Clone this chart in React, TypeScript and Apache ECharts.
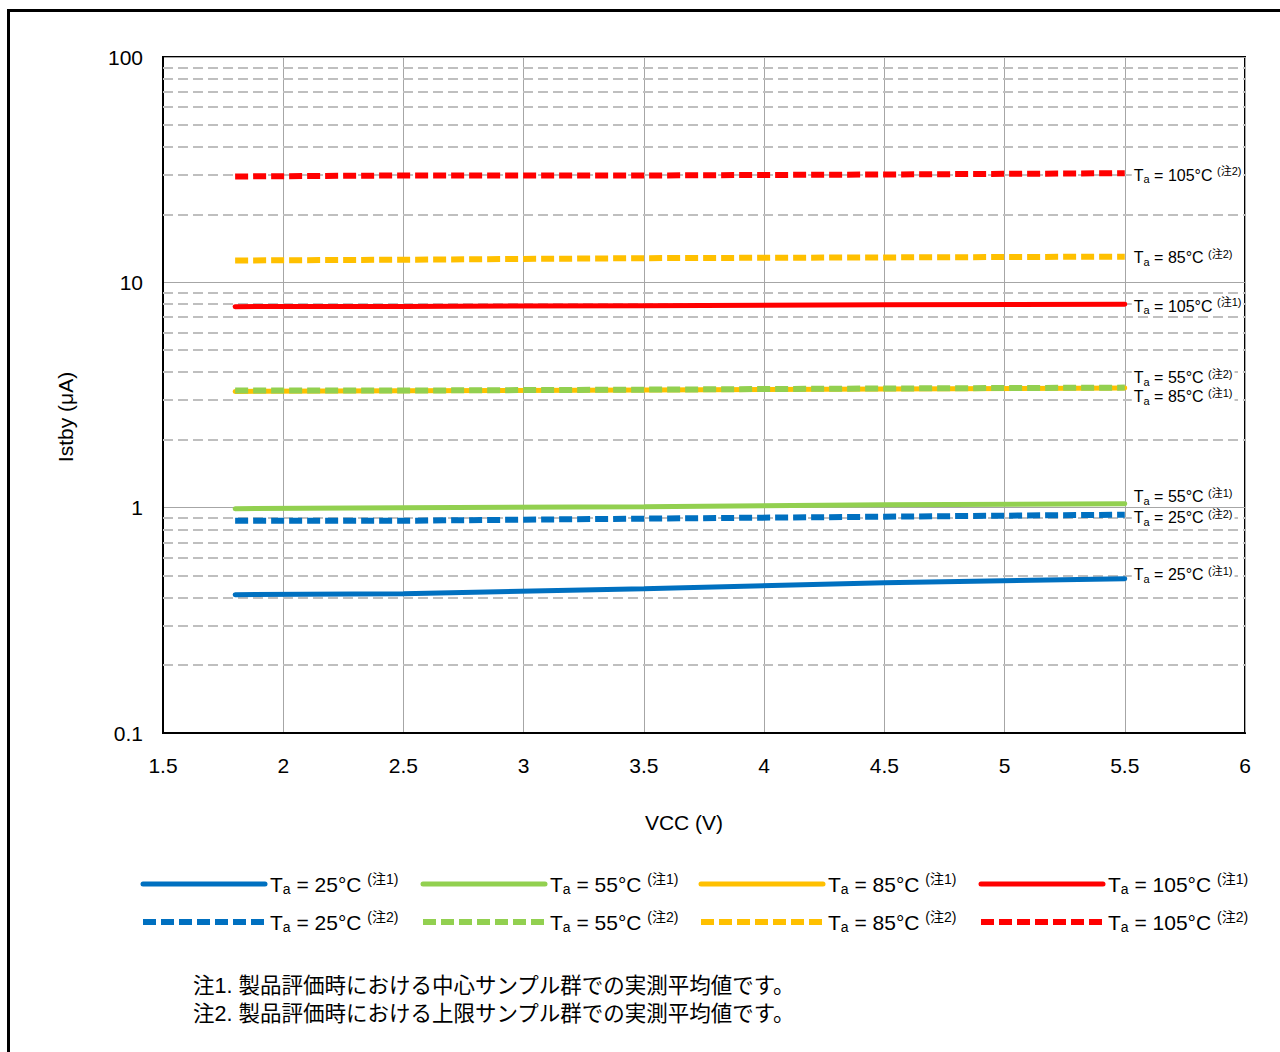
import React, { useEffect, useRef } from "react";
import * as echarts from "echarts";

const vcc = [1.8, 2.5, 3.5, 4.5, 5.5];

const ta25n1 = [0.411, 0.415, 0.437, 0.464, 0.484];
const ta55n1 = [0.99, 1.0, 1.01, 1.03, 1.04];
const ta85n1 = [3.28, 3.3, 3.33, 3.36, 3.4];
const ta105n1 = [7.8, 7.82, 7.88, 7.95, 8.0];
const ta25n2 = [0.875, 0.875, 0.894, 0.912, 0.931];
const ta55n2 = [3.31, 3.31, 3.34, 3.38, 3.41];
const ta85n2 = [12.5, 12.6, 12.8, 12.9, 13.0];
const ta105n2 = [29.5, 29.8, 29.8, 30.1, 30.5];

const minorGrid = [0.2, 0.3, 0.4, 0.5, 0.6, 0.7, 0.8, 0.9, 2, 3, 4, 5, 6, 7, 8, 9, 20, 30, 40, 50, 60, 70, 80, 90];

const notes = [
  "注1. 製品評価時における中心サンプル群での実測平均値です。",
  "注2. 製品評価時における上限サンプル群での実測平均値です。",
];

const FONT = '"Liberation Sans", Arial, "Noto Sans CJK JP", sans-serif';

type S = { name: string; temp: string; note: string; color: string; dashed: boolean; data: number[]; offset: number };

const seriesDefs: S[] = [
  { name: "25n1", temp: "25", note: "1", color: "#0070C0", dashed: false, data: ta25n1, offset: -4 },
  { name: "55n1", temp: "55", note: "1", color: "#92D050", dashed: false, data: ta55n1, offset: -7 },
  { name: "85n1", temp: "85", note: "1", color: "#FFC000", dashed: false, data: ta85n1, offset: 9 },
  { name: "105n1", temp: "105", note: "1", color: "#FF0000", dashed: false, data: ta105n1, offset: 2 },
  { name: "25n2", temp: "25", note: "2", color: "#0070C0", dashed: true, data: ta25n2, offset: 3 },
  { name: "55n2", temp: "55", note: "2", color: "#92D050", dashed: true, data: ta55n2, offset: -10 },
  { name: "85n2", temp: "85", note: "2", color: "#FFC000", dashed: true, data: ta85n2, offset: 1 },
  { name: "105n2", temp: "105", note: "2", color: "#FF0000", dashed: true, data: ta105n2, offset: 2 },
];

const labelText = (d: S) => `{t|T}{s|a}{t| = ${d.temp}°C }{n|(注${d.note})}`;

const rich = (big: number, small: number, lh: number) => ({
  t: { fontSize: big, fontFamily: FONT, color: "#000", lineHeight: lh },
  s: { fontSize: small, fontFamily: FONT, color: "#000", lineHeight: small + 1, verticalAlign: "bottom" },
  n: { fontSize: small, fontFamily: FONT, color: "#000", lineHeight: small + 1, verticalAlign: "top" },
});

export default function App() {
  const ref = useRef<HTMLDivElement>(null);
  useEffect(() => {
    document.body.style.margin = "0";
    const chart = echarts.init(ref.current!, null, { renderer: "svg" });
    const byName: Record<string, S> = {};
    seriesDefs.forEach((d) => (byName[d.name] = d));

    const series: any[] = [
      {
        type: "line",
        name: "grid",
        data: [],
        z: 1,
        silent: true,
        markLine: {
          silent: true,
          z: 1,
          symbol: ["none", "none"],
          label: { show: false },
          lineStyle: { color: "#bfbfbf", type: [10, 5], width: 2 },
          data: minorGrid.map((v) => ({ yAxis: v })),
          animation: false,
        },
      },
      ...seriesDefs.map((d) => ({
        type: "line",
        name: d.name,
        data: vcc.map((x, i) => [x, d.data[i]]),
        symbol: "none",
        z: 10,
        smooth: false,
        lineStyle: {
          color: d.color,
          width: d.dashed ? 6 : 5,
          type: d.dashed ? [13, 5] : "solid",
          cap: d.dashed ? "butt" : "round",
        },
        itemStyle: { color: d.color },
        endLabel: {
          show: true,
          distance: 7,
          offset: [0, d.offset],
          backgroundColor: "#fff",
          padding: [0, 2, 0, 2],
          formatter: () => labelText(d),
          rich: rich(16, 11, 19),
        },
      })),
    ];

    const cols = [
      ["25n1", "25n2"],
      ["55n1", "55n2"],
      ["85n1", "85n2"],
      ["105n1", "105n2"],
    ];
    const colLeft = [140, 420, 698, 978];

    chart.setOption({
      animation: false,
      textStyle: { fontFamily: FONT },
      grid: { left: 163, top: 57, right: 35, bottom: 319, show: true, borderColor: "#000", borderWidth: 2 },
      xAxis: {
        type: "value",
        min: 1.5,
        max: 6,
        interval: 0.5,
        name: "VCC (V)",
        nameLocation: "middle",
        nameGap: 79,
        nameTextStyle: { fontSize: 21, color: "#000", fontFamily: FONT, padding: [0, 40, 0, 0] },
        axisLine: { lineStyle: { color: "#000", width: 2 } },
        axisTick: { show: false },
        axisLabel: { fontSize: 21, color: "#000", margin: 22, fontFamily: FONT },
        splitLine: { show: true, lineStyle: { color: "#a6a6a6", width: 1 } },
      },
      yAxis: {
        type: "log",
        logBase: 10,
        min: 0.1,
        max: 100,
        name: "Istby (μA)",
        nameLocation: "middle",
        nameGap: 87,
        nameTextStyle: { fontSize: 21, color: "#000", fontFamily: FONT, padding: [0, 44, 0, 0] },
        axisLine: { lineStyle: { color: "#000", width: 2 } },
        axisTick: { show: false },
        axisLabel: { fontSize: 21, color: "#000", margin: 20, fontFamily: FONT },
        splitLine: { show: true, lineStyle: { color: "#a6a6a6", width: 1 } },
      },
      legend: cols.map((c, i) => ({
        orient: "vertical",
        left: colLeft[i],
        top: 872,
        padding: 0,
        itemWidth: 122,
        itemHeight: 10,
        itemGap: 14,
        data: c,
        selectedMode: false,
        itemStyle: { opacity: 0 },
        lineStyle: { width: "inherit" },
        formatter: (name: string) => labelText(byName[name]),
        textStyle: { rich: rich(21, 14, 24) },
      })),
      graphic: [
        {
          type: "rect",
          shape: { x: 8.5, y: 10.5, width: 1300, height: 1100 },
          style: { fill: "none", stroke: "#000", lineWidth: 3 },
          silent: true,
        },
        ...notes.map((t, i) => ({
          type: "text",
          left: 193,
          top: 975 + i * 28,
          style: { text: t, font: `21.5px "Liberation Sans", "Noto Sans CJK JP", sans-serif`, fill: "#000" },
        })),
      ],
      series,
    });
    return () => chart.dispose();
  }, []);
  return <div ref={ref} style={{ width: 1280, height: 1052 }} />;
}
